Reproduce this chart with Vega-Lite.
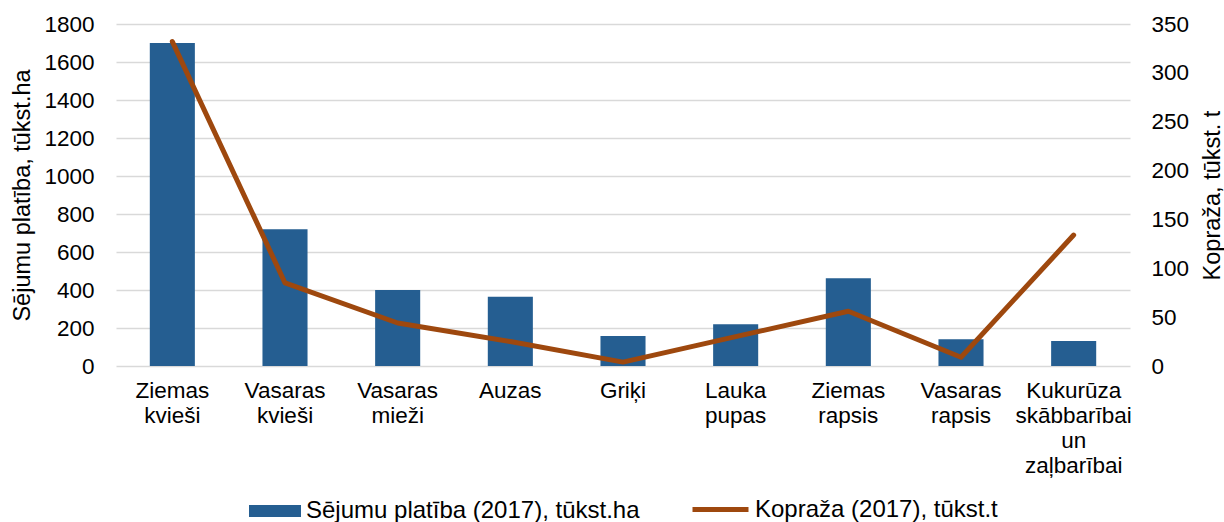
{
  "$schema": "https://vega.github.io/schema/vega-lite/v6.json",
  "width": 1014,
  "height": 342,
  "autosize": "none",
  "padding": {"left": 116, "top": 24, "right": 94, "bottom": 156},
  "background": "white",
  "config": {
    "font": "Liberation Sans",
    "view": {"stroke": null},
    "axis": {
      "labelFont": "Liberation Sans",
      "labelFontSize": 22.5,
      "labelColor": "#000000",
      "titleFont": "Liberation Sans",
      "titleFontSize": 23.5,
      "titleFontWeight": "normal",
      "titleColor": "#000000",
      "ticks": false,
      "domain": false
    },
    "legend": {
      "labelFont": "Liberation Sans",
      "labelFontSize": 24,
      "labelColor": "#000000",
      "labelLimit": 0
    }
  },
  "data": {
    "values": [
      {"crop": "Ziemas kvieši", "area": 1700, "harvest": 332},
      {"crop": "Vasaras kvieši", "area": 720, "harvest": 85},
      {"crop": "Vasaras mieži", "area": 400, "harvest": 44},
      {"crop": "Auzas", "area": 365, "harvest": 25},
      {"crop": "Griķi", "area": 158, "harvest": 4},
      {"crop": "Lauka pupas", "area": 220, "harvest": 30},
      {"crop": "Ziemas rapsis", "area": 462, "harvest": 56},
      {"crop": "Vasaras rapsis", "area": 141, "harvest": 9},
      {"crop": "Kukurūza skābbarībai un zaļbarībai", "area": 132, "harvest": 134}
    ]
  },
  "encoding": {
    "x": {
      "field": "crop",
      "type": "nominal",
      "sort": null,
      "scale": {"paddingInner": 0.6, "paddingOuter": 0.3},
      "axis": {
        "title": null,
        "labelAngle": 0,
        "labelExpr": "split(datum.label, ' ')",
        "labelLineHeight": 25,
        "labelPadding": 13,
        "grid": false
      }
    }
  },
  "layer": [
    {
      "mark": {"type": "bar"},
      "encoding": {
        "y": {
          "field": "area",
          "type": "quantitative",
          "scale": {"domain": [0, 1800]},
          "axis": {
            "title": "Sējumu platība, tūkst.ha",
            "values": [0, 200, 400, 600, 800, 1000, 1200, 1400, 1600, 1800],
            "format": "d",
            "grid": true,
            "gridColor": "#d9d9d9",
            "gridWidth": 1.5,
            "labelPadding": 22,
            "titlePadding": 9
          }
        },
        "fill": {
          "datum": "Sējumu platība (2017), tūkst.ha",
          "type": "nominal",
          "scale": {"range": ["#255e91"]},
          "legend": {
            "title": null,
            "orient": "none",
            "legendX": 133,
            "legendY": 461,
            "symbolType": "M-1,-0.23H1V0.23H-1Z",
            "symbolSize": 2704,
            "symbolStrokeWidth": 0,
            "labelOffset": 5
          }
        }
      }
    },
    {
      "mark": {"type": "line", "strokeWidth": 5, "strokeCap": "round", "strokeJoin": "round"},
      "encoding": {
        "y": {
          "field": "harvest",
          "type": "quantitative",
          "scale": {"domain": [0, 350]},
          "axis": {
            "orient": "right",
            "title": "Kopraža, tūkst. t",
            "titleAngle": 270,
            "values": [0, 50, 100, 150, 200, 250, 300, 350],
            "grid": false,
            "labelPadding": 21,
            "titlePadding": 36
          }
        },
        "stroke": {
          "datum": "Kopraža (2017), tūkst.t",
          "type": "nominal",
          "scale": {"range": ["#9e480e"]},
          "legend": {
            "title": null,
            "orient": "none",
            "legendX": 574,
            "legendY": 455,
            "symbolType": "stroke",
            "symbolSize": 3136,
            "symbolStrokeWidth": 5,
            "labelOffset": 4
          }
        }
      }
    }
  ],
  "resolve": {"scale": {"y": "independent"}}
}
